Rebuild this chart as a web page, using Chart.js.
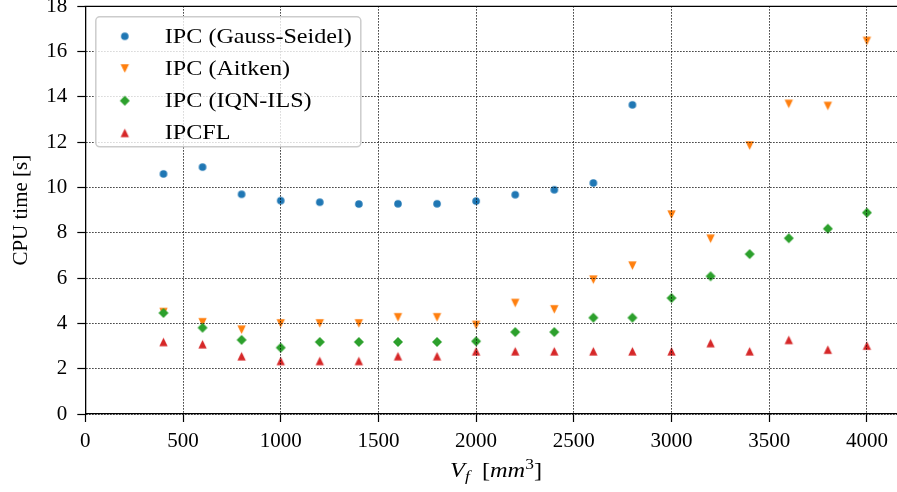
<!DOCTYPE html>
<html>
<head>
<meta charset="utf-8">
<script src="https://cdn.jsdelivr.net/npm/chart.js@4"></script>
<style>
  html, body { margin: 0; padding: 0; background: #fff; overflow: hidden; }
  #wrap { width: 897px; height: 492px; overflow: hidden; }
</style>
</head>
<body>
<div id="wrap"><canvas id="cpuChart" width="912" height="492"></canvas></div>
<script>
// fluid volume V_f [mm^3]
const volumes = [400, 600, 800, 1000, 1200, 1400, 1600, 1800, 2000, 2200,
                 2400, 2600, 2800, 3000, 3200, 3400, 3600, 3800, 4000];

// CPU time [s] per coupling method
const gaussSeidel = [10.6, 10.9, 9.7, 9.42, 9.35, 9.27, 9.28, 9.28, 9.4, 9.68,
                     9.9, 10.2, 13.65];
const aitken = [4.5, 4.05, 3.72, 4.0, 4.0, 4.0, 4.27, 4.27, 3.93, 4.9,
                4.62, 5.93, 6.55, 8.8, 7.74, 11.85, 13.69, 13.6, 16.47];
const iqnIls = [4.46, 3.81, 3.27, 2.93, 3.18, 3.18, 3.18, 3.18, 3.21, 3.62,
                3.62, 4.25, 4.25, 5.12, 6.08, 7.06, 7.76, 8.18, 8.89];
const ipcfl = [3.18, 3.08, 2.55, 2.34, 2.34, 2.34, 2.55, 2.55, 2.77, 2.77,
               2.77, 2.77, 2.77, 2.77, 3.13, 2.77, 3.27, 2.84, 3.02];

const seriesNames = ['IPC (Gauss-Seidel)', 'IPC (Aitken)', 'IPC (IQN-ILS)', 'IPCFL'];
const seriesColors = ['#1f77b4', '#ff7f0e', '#2ca02c', '#d62728'];
const xTickValues = [0, 500, 1000, 1500, 2000, 2500, 3000, 3500, 4000];
const yTickValues = [0, 2, 4, 6, 8, 10, 12, 14, 16, 18];
const xLimits = [0, 4200];
const yLimits = [0, 18];

const FONT = '"Liberation Serif", "Times New Roman", serif';

// matplotlib-like markers as small canvases (centred on their bounding box)
function makeMarker(shape, color, size) {
  const s = Math.ceil(size) + 2;
  const c = document.createElement('canvas');
  c.width = s; c.height = s;
  const g = c.getContext('2d');
  const m = s / 2, h = size / 2;
  g.fillStyle = color;
  g.beginPath();
  if (shape === 'circle') {
    g.arc(m, m, h, 0, Math.PI * 2);
  } else if (shape === 'triUp') {
    g.moveTo(m, m - h); g.lineTo(m + h, m + h); g.lineTo(m - h, m + h);
  } else if (shape === 'triDown') {
    g.moveTo(m, m + h); g.lineTo(m + h, m - h); g.lineTo(m - h, m - h);
  } else if (shape === 'diamond') {
    g.moveTo(m, m - h); g.lineTo(m + h, m); g.lineTo(m, m + h); g.lineTo(m - h, m);
  }
  g.closePath();
  g.fill();
  return c;
}

const markers = [
  makeMarker('circle', seriesColors[0], 7.6),
  makeMarker('triDown', seriesColors[1], 8.4),
  makeMarker('diamond', seriesColors[2], 10),
  makeMarker('triUp', seriesColors[3], 8.4)
];

function toPoints(values) {
  return values.map((v, i) => ({ x: volumes[i], y: v }));
}

const allSeries = [gaussSeidel, aitken, iqnIls, ipcfl];
const datasets = allSeries.map((vals, i) => ({
  label: seriesNames[i],
  data: toPoints(vals),
  pointStyle: markers[i],
  backgroundColor: seriesColors[i],
  borderColor: seriesColors[i],
  order: 4 - i
}));

// top spine, axis titles and the boxed legend
const decorations = {
  id: 'decorations',
  afterDraw(chart) {
    const ctx = chart.ctx;
    const a = chart.chartArea;
    ctx.save();

    // top spine
    ctx.strokeStyle = '#000';
    ctx.lineWidth = 1.3;
    ctx.beginPath();
    ctx.moveTo(a.left - 0.65, a.top);
    ctx.lineTo(a.right, a.top);
    ctx.stroke();

    ctx.fillStyle = '#000';
    // y title
    ctx.save();
    ctx.translate(21, (a.top + a.bottom) / 2);
    ctx.rotate(-Math.PI / 2);
    ctx.font = '21px ' + FONT;
    ctx.textAlign = 'center';
    ctx.textBaseline = 'middle';
    ctx.fillText('CPU time [s]', 0, 0);
    ctx.restore();

    // x title: V_f [mm^3]
    const parts = [
      { t: 'V', f: 'italic 21px', dy: 0 },
      { t: 'f', f: 'italic 15px', dy: 4 },
      { t: '  [', f: '21px', dy: 0 },
      { t: 'mm', f: 'italic 21px', dy: 0 },
      { t: '3', f: '15px', dy: -8 },
      { t: ']', f: '21px', dy: 0 }
    ];
    let total = 0;
    parts.forEach(p => {
      ctx.font = p.f + ' ' + FONT;
      p.w = ctx.measureText(p.t).width;
      total += p.w;
    });
    const xStretch = 92 / total;
    ctx.save();
    ctx.translate(496 - 46, 477);
    ctx.scale(xStretch, 1);
    let x = 0;
    ctx.textAlign = 'left';
    ctx.textBaseline = 'alphabetic';
    parts.forEach(p => {
      ctx.font = p.f + ' ' + FONT;
      ctx.fillText(p.t, x, p.dy);
      x += p.w;
    });
    ctx.restore();

    // legend box
    const bx = a.left + 10.5, by = a.top + 10.5, bw = 265, bh = 130, r = 4;
    ctx.beginPath();
    ctx.moveTo(bx + r, by);
    ctx.arcTo(bx + bw, by, bx + bw, by + bh, r);
    ctx.arcTo(bx + bw, by + bh, bx, by + bh, r);
    ctx.arcTo(bx, by + bh, bx, by, r);
    ctx.arcTo(bx, by, bx + bw, by, r);
    ctx.closePath();
    ctx.fillStyle = 'rgba(255,255,255,0.8)';
    ctx.fill();
    ctx.strokeStyle = '#cccccc';
    ctx.lineWidth = 1.5;
    ctx.stroke();

    ctx.font = '21px ' + FONT;
    ctx.fillStyle = '#000';
    ctx.textBaseline = 'middle';
    // Computer Modern runs wider than Times: stretch the legend text a little
    const stretch = 187 / ctx.measureText(seriesNames[0]).width;
    seriesNames.forEach((name, i) => {
      const ry = by + 19.5 + i * 32.2;
      const mk = markers[i];
      ctx.drawImage(mk, bx + 29 - mk.width / 2, ry - mk.height / 2);
      ctx.save();
      ctx.translate(bx + 69, ry + 1);
      ctx.scale(stretch, 1);
      ctx.fillText(name, 0, 0);
      ctx.restore();
    });

    ctx.restore();
  }
};

Chart.defaults.font.family = FONT;
Chart.defaults.font.size = 21;
Chart.defaults.color = '#000';

const gridOpts = {
  color: '#000',
  lineWidth: 1,
  tickColor: '#000',
  tickWidth: 1.2,
  tickLength: 8,
  tickBorderDash: [],
  z: 1
};
const borderOpts = { color: '#000', width: 1.3, dash: [1.2, 1.8], z: 2 };

function noPadding(scale) {
  scale.paddingTop = 0;
  scale.paddingBottom = 0;
  scale.paddingLeft = 0;
  scale.paddingRight = 0;
}

new Chart(document.getElementById('cpuChart').getContext('2d'), {
  type: 'scatter',
  data: { datasets },
  plugins: [decorations],
  options: {
    responsive: false,
    animation: false,
    layout: { padding: { left: 0, top: 6.3, right: 6, bottom: 0 } },
    plugins: { legend: { display: false }, tooltip: { enabled: false } },
    scales: {
      x: {
        type: 'linear',
        min: xLimits[0],
        max: xLimits[1],
        grid: gridOpts,
        border: borderOpts,
        ticks: { padding: 7, maxRotation: 0, autoSkip: false, callback: v => String(v) },
        afterBuildTicks: scale => { scale.ticks = xTickValues.map(v => ({ value: v })); },
        afterFit: scale => { scale.height = 78; noPadding(scale); }
      },
      y: {
        type: 'linear',
        min: yLimits[0],
        max: yLimits[1],
        grid: gridOpts,
        border: borderOpts,
        ticks: { padding: 10, autoSkip: false, callback: v => String(v) },
        afterBuildTicks: scale => { scale.ticks = yTickValues.map(v => ({ value: v })); },
        afterFit: scale => { scale.width = 85.3; noPadding(scale); }
      }
    }
  }
});
</script>
</body>
</html>
